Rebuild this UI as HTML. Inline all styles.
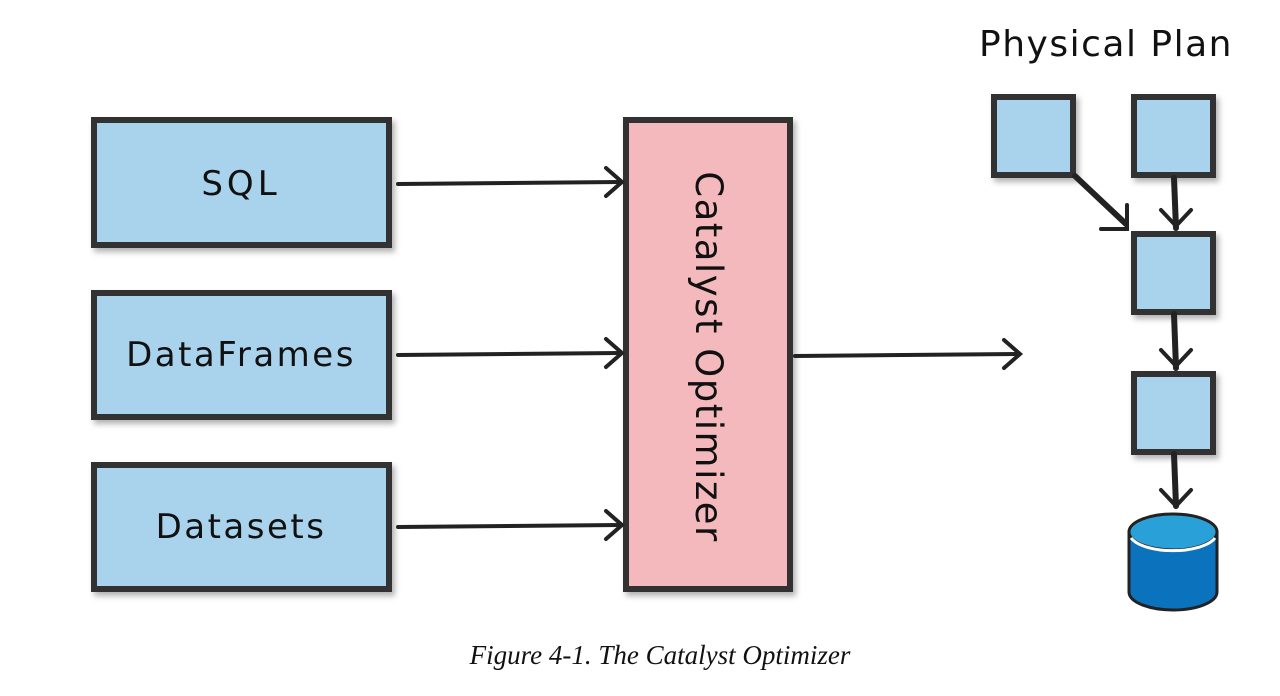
<!DOCTYPE html>
<html><head><meta charset="utf-8"><style>
html,body{margin:0;padding:0;background:#fff;width:1280px;height:696px;overflow:hidden}
svg{display:block}
text{font-family:"DejaVu Sans","Liberation Sans",sans-serif;fill:#111}
</style></head><body>
<svg width="1280" height="696" viewBox="0 0 1280 696">
<defs>
<filter id="sh" x="-10%" y="-10%" width="130%" height="130%"><feDropShadow dx="3" dy="4" stdDeviation="3" flood-color="#000" flood-opacity="0.3"/></filter>
</defs>
<g stroke="#333" stroke-width="6" filter="url(#sh)">
<rect x="94" y="120" width="295" height="125" fill="#a9d3ec"/>
<rect x="94" y="293" width="295" height="124" fill="#a9d3ec"/>
<rect x="94" y="465" width="295" height="124" fill="#a9d3ec"/>
<rect x="626" y="120" width="164" height="469" fill="#f4b9bd"/>
<rect x="994" y="97" width="79" height="78" fill="#a9d3ec"/>
<rect x="1134" y="97" width="79" height="78" fill="#a9d3ec"/>
<rect x="1134" y="234" width="79" height="78" fill="#a9d3ec"/>
<rect x="1134" y="374" width="79" height="78" fill="#a9d3ec"/>
</g>
<text x="241" y="195" font-size="34" letter-spacing="4" text-anchor="middle">SQL</text>
<text x="241" y="366" font-size="34" letter-spacing="2.5" text-anchor="middle">DataFrames</text>
<text x="241" y="538" font-size="34" letter-spacing="2.5" text-anchor="middle">Datasets</text>
<text transform="translate(696,357) rotate(90)" font-size="37" letter-spacing="1.5" text-anchor="middle">Catalyst Optimizer</text>
<text x="1106" y="56" font-size="36" letter-spacing="1.5" text-anchor="middle">Physical Plan</text>
<g stroke="#222" stroke-width="4" fill="none" stroke-linecap="round">
<path d="M398 184 L620 182"/><path d="M606 168 L622 182 L606 196"/>
<path d="M398 355 L620 353"/><path d="M606 339 L622 353 L606 367"/>
<path d="M398 527 L620 525"/><path d="M606 511 L622 525 L606 539"/>
<path d="M795 356 L1018 354"/><path d="M1004 340 L1020 354 L1004 368"/>
<path d="M1075 176 L1126 224" stroke-width="6"/><path d="M1101 229 L1127 229 L1127 205"/>
<path d="M1174 178 L1176 228" stroke-width="6"/><path d="M1161 210 L1176 226 L1191 210"/>
<path d="M1174 314 L1176 368" stroke-width="6"/><path d="M1161 350 L1176 366 L1191 350"/>
<path d="M1174 454 L1176 506" stroke-width="6"/><path d="M1161 490 L1176 506 L1191 490"/>
</g>
<g>
<path d="M1129 532 L1129 592 A44 18 0 0 0 1217 592 L1217 532 Z" fill="#0b72bd" stroke="#222" stroke-width="3"/>
<ellipse cx="1173" cy="532" rx="44" ry="18" fill="#2aa0d8" stroke="#222" stroke-width="3"/>
<path d="M1131 538 A44 18 0 0 0 1215 538" stroke="#fff" stroke-width="3" fill="none"/>
</g>
<text x="660" y="664" font-size="27" font-style="italic" text-anchor="middle" style="font-family:'Liberation Serif',serif">Figure 4-1. The Catalyst Optimizer</text>
</svg>
</body></html>
